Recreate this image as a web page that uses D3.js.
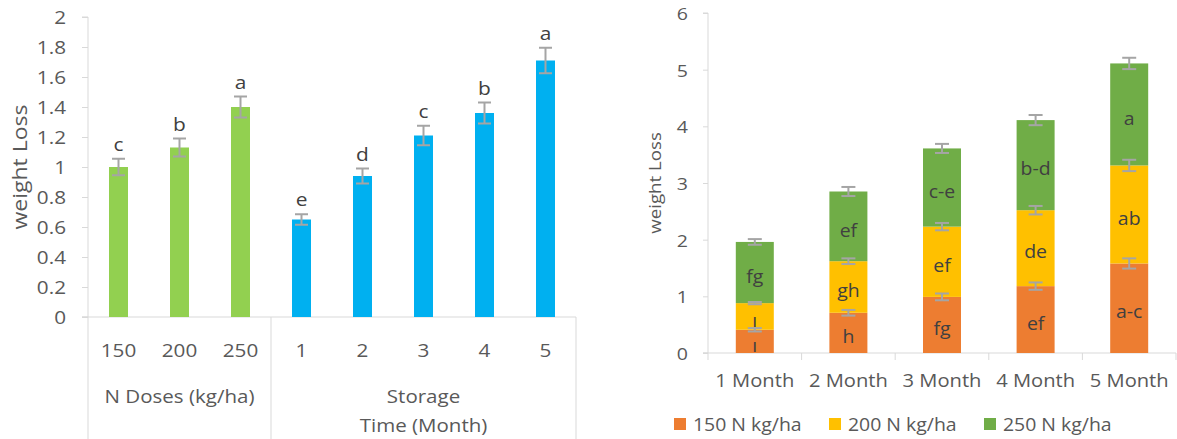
<!DOCTYPE html>
<html>
<head>
<meta charset="utf-8">
<script src="https://cdn.jsdelivr.net/npm/d3@7"></script>
<style>
  html, body { margin: 0; padding: 0; background: #fff; }
  svg { display: block; font-family: "Open Sans", "Noto Sans", sans-serif; }
</style>
</head>
<body>
<svg id="chart" width="1177" height="439"></svg>
<script>
// ---------- Left chart data ----------
const leftCategories = ["150", "200", "250", "1", "2", "3", "4", "5"];
const leftValues = [1.00, 1.13, 1.40, 0.65, 0.94, 1.21, 1.36, 1.71];
const leftErrors = [0.055, 0.06, 0.07, 0.035, 0.05, 0.065, 0.07, 0.085];
const leftLetters = ["c", "b", "a", "e", "d", "c", "b", "a"];
const leftGroupNames = ["N Doses (kg/ha)", "Storage|Time (Month)"];
const leftGroupSizes = [3, 5];
const leftYTicks = [0, 0.2, 0.4, 0.6, 0.8, 1, 1.2, 1.4, 1.6, 1.8, 2];

// ---------- Right chart data ----------
const months = ["1 Month", "2 Month", "3 Month", "4 Month", "5 Month"];
const seriesNames = ["150 N kg/ha", "200 N kg/ha", "250 N kg/ha"];
const n150 = [0.41, 0.71, 0.99, 1.18, 1.58];
const n200 = [0.47, 0.91, 1.24, 1.34, 1.73];
const n250 = [1.08, 1.23, 1.38, 1.59, 1.80];
const e150 = [0.03, 0.05, 0.06, 0.065, 0.09];
const e200 = [0.02, 0.05, 0.065, 0.075, 0.10];
const e250 = [0.05, 0.08, 0.08, 0.09, 0.10];
const l150 = ["ı", "h", "fg", "ef", "a-c"];
const l200 = ["ı", "gh", "ef", "de", "ab"];
const l250 = ["fg", "ef", "c-e", "b-d", "a"];
const rightYTicks = [0, 1, 2, 3, 4, 5, 6];

const svg = d3.select("#chart");
const AXIS = "#d9d9d9", TXT = "#595959", LBL = "#404040", ERR = "#a5a5a5";

function stext(g, str, x, y, opts) {
  const o = Object.assign({size: 18, sx: 1.12, anchor: "middle", fill: TXT, rot: 0, baseline: null}, opts || {});
  const t = g.append("text")
    .attr("transform", `translate(${x},${y})` + (o.rot ? ` rotate(${o.rot})` : "") + ` scale(${o.sx},1)`)
    .attr("text-anchor", o.anchor)
    .attr("font-size", o.size)
    .attr("fill", o.fill)
    .text(str);
  if (o.baseline) t.attr("dominant-baseline", o.baseline);
  return t;
}

// ================= LEFT CHART =================
{
  const x0 = 88, x1 = 576, yTop = 17, yBot = 317;
  const g = svg.append("g");
  const x = d3.scaleBand().domain(leftCategories).range([x0, x1]).padding(0);
  const y = d3.scaleLinear().domain([0, 2]).range([yBot, yTop]);
  const barW = 19;
  const colors = leftCategories.map((c, i) => i < 3 ? "#92D050" : "#00B0F0");

  // y axis
  const yAxis = d3.axisLeft(y).tickValues(leftYTicks).tickSize(6).tickFormat(() => "");
  const ya = g.append("g").attr("transform", `translate(${x0},0)`).call(yAxis);
  ya.selectAll("path, line").attr("stroke", AXIS);
  ya.select("path").attr("d", `M-6,${yTop}H0V${yBot}H-6`);
  leftYTicks.forEach(v => {
    stext(g, d3.format("~g")(v), 66, y(v), {anchor: "end", size: 18.5, sx: 1.12, baseline: "central"});
  });
  // horizontal axis line
  g.append("line").attr("x1", x0 - 6).attr("x2", x1).attr("y1", yBot).attr("y2", yBot).attr("stroke", AXIS);

  // bars
  g.selectAll("rect.lb").data(leftValues).join("rect")
    .attr("x", (d, i) => x(leftCategories[i]) + x.bandwidth() / 2 - barW / 2)
    .attr("width", barW)
    .attr("y", d => y(d))
    .attr("height", d => yBot - y(d))
    .attr("fill", (d, i) => colors[i]);

  // error bars
  leftValues.forEach((v, i) => {
    const cx = x(leftCategories[i]) + x.bandwidth() / 2;
    const e = leftErrors[i];
    const eg = g.append("g").attr("stroke", ERR).attr("stroke-width", 2);
    eg.append("line").attr("x1", cx).attr("x2", cx).attr("y1", y(v - e)).attr("y2", y(v + e));
    eg.append("line").attr("x1", cx - 6.5).attr("x2", cx + 6.5).attr("y1", y(v - e)).attr("y2", y(v - e));
    eg.append("line").attr("x1", cx - 6.5).attr("x2", cx + 6.5).attr("y1", y(v + e)).attr("y2", y(v + e));
    stext(g, leftLetters[i], cx, y(v + e) - 8, {size: 19, sx: 1.1, fill: LBL});
  });

  // category labels
  leftCategories.forEach(c => {
    stext(g, c, x(c) + x.bandwidth() / 2, 357, {size: 18.5, sx: 1.12});
  });

  // group box lines
  let acc = 0;
  const bounds = [x0];
  leftGroupSizes.forEach(s => { acc += s; bounds.push(x(leftCategories[acc - 1]) + x.bandwidth()); });
  bounds.forEach(bx => {
    g.append("line").attr("x1", bx).attr("x2", bx).attr("y1", yBot).attr("y2", 439).attr("stroke", AXIS);
  });
  leftGroupNames.forEach((name, i) => {
    const cx = (bounds[i] + bounds[i + 1]) / 2;
    name.split("|").forEach((ln, k) => {
      stext(g, ln, cx, 403 + k * 29, {size: 19, sx: 1.08});
    });
  });

  // y label
  stext(g, "weight Loss", 27, 167, {size: 20, sx: 1.15, rot: -90});
}

// ================= RIGHT CHART =================
{
  const x0 = 708, x1 = 1176, yTop = 13, yBot = 353;
  const g = svg.append("g");
  const x = d3.scaleBand().domain(months).range([x0, x1]).padding(0);
  const y = d3.scaleLinear().domain([0, 6]).range([yBot, yTop]);
  const barW = 38;
  const colors = ["#ED7D31", "#FFC000", "#70AD47"];
  const values = [n150, n200, n250];
  const errs = [e150, e200, e250];
  const letters = [l150, l200, l250];

  const table = months.map((m, i) => ({month: m, s0: n150[i], s1: n200[i], s2: n250[i]}));
  const stack = d3.stack().keys(["s0", "s1", "s2"])(table);

  // y axis
  const yAxis = d3.axisLeft(y).tickValues(rightYTicks).tickSize(5).tickFormat(() => "");
  const ya = g.append("g").attr("transform", `translate(${x0},0)`).call(yAxis);
  ya.selectAll("path, line").attr("stroke", AXIS);
  ya.select("path").attr("d", `M-5,${yTop}H0V${yBot}H-5`);
  rightYTicks.forEach(v => {
    stext(g, String(v), 688, y(v), {anchor: "end", size: 17, sx: 1.15, baseline: "central"});
  });

  // x axis
  const xa = g.append("g").attr("transform", `translate(0,${yBot})`);
  xa.append("line").attr("x1", x0 - 5).attr("x2", x1).attr("y1", 0).attr("y2", 0).attr("stroke", AXIS);
  const bnds = months.map(m => x(m)).concat([x1]);
  bnds.forEach(bx => xa.append("line").attr("x1", bx).attr("x2", bx).attr("y1", 0).attr("y2", 7).attr("stroke", AXIS));
  months.forEach(m => stext(g, m, x(m) + x.bandwidth() / 2, 387, {size: 18, sx: 1.12}));

  // bars
  stack.forEach((layer, si) => {
    g.selectAll(null).data(layer).join("rect")
      .attr("x", d => x(d.data.month) + x.bandwidth() / 2 - barW / 2)
      .attr("width", barW)
      .attr("y", d => y(d[1]))
      .attr("height", d => y(d[0]) - y(d[1]))
      .attr("fill", colors[si]);
  });
  // error bars + letters
  stack.forEach((layer, si) => {
    layer.forEach((d, i) => {
      const cx = x(d.data.month) + x.bandwidth() / 2;
      const e = errs[si][i];
      const eg = g.append("g").attr("stroke", ERR).attr("stroke-width", 2);
      eg.append("line").attr("x1", cx).attr("x2", cx).attr("y1", y(d[1] - e)).attr("y2", y(d[1] + e));
      eg.append("line").attr("x1", cx - 7).attr("x2", cx + 7).attr("y1", y(d[1] - e)).attr("y2", y(d[1] - e));
      eg.append("line").attr("x1", cx - 7).attr("x2", cx + 7).attr("y1", y(d[1] + e)).attr("y2", y(d[1] + e));
      stext(g, letters[si][i], cx, (y(d[0]) + y(d[1])) / 2 + 3, {size: 18, sx: 1.08, fill: LBL, baseline: "central"});
    });
  });

  // y label
  stext(g, "weight Loss", 661, 183, {size: 17, sx: 1.1, rot: -90});

  // legend
  const legX = [674, 829, 984];
  seriesNames.forEach((name, i) => {
    g.append("rect").attr("x", legX[i]).attr("y", 418).attr("width", 12).attr("height", 12).attr("fill", colors[i]);
    stext(g, name, legX[i] + 19, 431, {anchor: "start", size: 18, sx: 1.08});
  });
}
</script>
</body>
</html>
